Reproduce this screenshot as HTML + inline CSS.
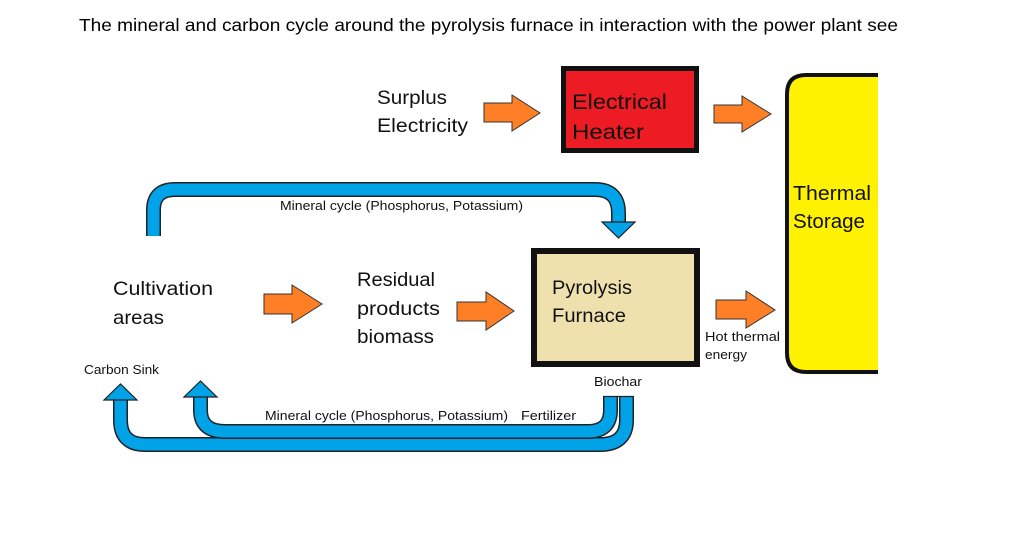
<!DOCTYPE html>
<html><head><meta charset="utf-8"><style>
html,body{margin:0;padding:0;background:#fff;}
svg{display:block;font-family:"Liberation Sans",sans-serif;}
</style></head><body>
<svg width="1020" height="539" viewBox="0 0 1020 539" xmlns="http://www.w3.org/2000/svg">
<rect width="1020" height="539" fill="#fff"/>
<text x="79" y="31" font-size="17.5" textLength="819" lengthAdjust="spacingAndGlyphs" fill="#000">The mineral and carbon cycle around the pyrolysis furnace in interaction with the power plant see</text>

<rect x="563.5" y="68.5" width="133" height="82" fill="#ed1c24" stroke="#111" stroke-width="5"/>
<text x="572" y="109" font-size="21" textLength="95" lengthAdjust="spacingAndGlyphs" fill="#111">Electrical</text>
<text x="572" y="139" font-size="21" textLength="72" lengthAdjust="spacingAndGlyphs" fill="#111">Heater</text>

<path d="M878 75 H806 Q787 75 787 94 V353 Q787 372 806 372 H878" fill="#fff200" stroke="#111" stroke-width="4"/>
<text x="793" y="200" font-size="20" textLength="78" lengthAdjust="spacingAndGlyphs" fill="#111">Thermal</text>
<text x="793" y="228" font-size="20" textLength="72" lengthAdjust="spacingAndGlyphs" fill="#111">Storage</text>

<rect x="534" y="251" width="163" height="113" fill="#efe1ae" stroke="#111" stroke-width="6"/>
<text x="552" y="294" font-size="19" textLength="80" lengthAdjust="spacingAndGlyphs" fill="#111">Pyrolysis</text>
<text x="552" y="322" font-size="19" textLength="74" lengthAdjust="spacingAndGlyphs" fill="#111">Furnace</text>

<text x="377" y="104" font-size="19" textLength="70" lengthAdjust="spacingAndGlyphs" fill="#111">Surplus</text>
<text x="377" y="132" font-size="19" textLength="91" lengthAdjust="spacingAndGlyphs" fill="#111">Electricity</text>
<text x="113" y="295" font-size="19" textLength="100" lengthAdjust="spacingAndGlyphs" fill="#111">Cultivation</text>
<text x="113" y="324" font-size="19" textLength="51" lengthAdjust="spacingAndGlyphs" fill="#111">areas</text>
<text x="357" y="286" font-size="19" textLength="78" lengthAdjust="spacingAndGlyphs" fill="#111">Residual</text>
<text x="357" y="315" font-size="19" textLength="83" lengthAdjust="spacingAndGlyphs" fill="#111">products</text>
<text x="357" y="343" font-size="19" textLength="77" lengthAdjust="spacingAndGlyphs" fill="#111">biomass</text>

<g font-size="12.5" fill="#111" lengthAdjust="spacingAndGlyphs">
<text x="280" y="210" textLength="243" lengthAdjust="spacingAndGlyphs">Mineral cycle (Phosphorus, Potassium)</text>
<text x="84" y="374" textLength="75" lengthAdjust="spacingAndGlyphs">Carbon Sink</text>
<text x="594" y="386" textLength="48" lengthAdjust="spacingAndGlyphs">Biochar</text>
<text x="265" y="420" textLength="243" lengthAdjust="spacingAndGlyphs">Mineral cycle (Phosphorus, Potassium)</text>
<text x="521" y="420" textLength="55" lengthAdjust="spacingAndGlyphs">Fertilizer</text>
<text x="705" y="341" textLength="75" lengthAdjust="spacingAndGlyphs">Hot thermal</text>
<text x="705" y="359" textLength="42" lengthAdjust="spacingAndGlyphs">energy</text>
</g>

<g fill="#ff7f27" stroke="#333" stroke-width="1">
<polygon points="484,103 512,103 512,95 540,113 512,131 512,122 484,122"/>
<polygon points="714,105 742,105 742,96 771,114 742,132 742,123 714,123"/>
<polygon points="716,300 746,300 746,291 775,310 746,328 746,319 716,319"/>
<polygon points="264,294 292,294 292,285 322,304 292,323 292,314 264,314"/>
<polygon points="457,302 486,302 486,292 514,311 486,330 486,321 457,321"/>
</g>

<g fill="none" stroke-linejoin="round">
<path d="M153.5 236 V210 Q153.5 189.5 175 189.5 H595 Q618.5 189.5 618.5 213 V223" stroke="#222" stroke-width="15"/>
<path d="M153.5 236 V210 Q153.5 189.5 175 189.5 H595 Q618.5 189.5 618.5 213 V224" stroke="#00a2e8" stroke-width="12"/>
<path d="M626.5 397 V420 Q626.5 444.5 600 444.5 H145 Q120.5 444.5 120.5 420 V400" stroke="#222" stroke-width="15"/>
<path d="M626.5 396 V420 Q626.5 444.5 600 444.5 H145 Q120.5 444.5 120.5 420 V399" stroke="#00a2e8" stroke-width="12"/>
<path d="M610.5 397 V410 Q610.5 431.5 588 431.5 H225 Q200.5 431.5 200.5 410 V396" stroke="#222" stroke-width="15"/>
<path d="M610.5 396 V410 Q610.5 431.5 588 431.5 H225 Q200.5 431.5 200.5 410 V395" stroke="#00a2e8" stroke-width="12"/>
</g>
<g fill="#00a2e8" stroke="#222" stroke-width="1.2">
<polygon points="602,222 635,222 618.5,238"/>
<polygon points="104,400 137,400 120.5,384"/>
<polygon points="184,397 217,397 200.5,381"/>
<rect x="604.5" y="396" width="12" height="3" stroke="none"/>
<rect x="620.5" y="396" width="12" height="3" stroke="none"/>
</g>
<line x1="603" y1="396.5" x2="634" y2="396.5" stroke="#222" stroke-width="1.2"/>
</svg>
</body></html>
